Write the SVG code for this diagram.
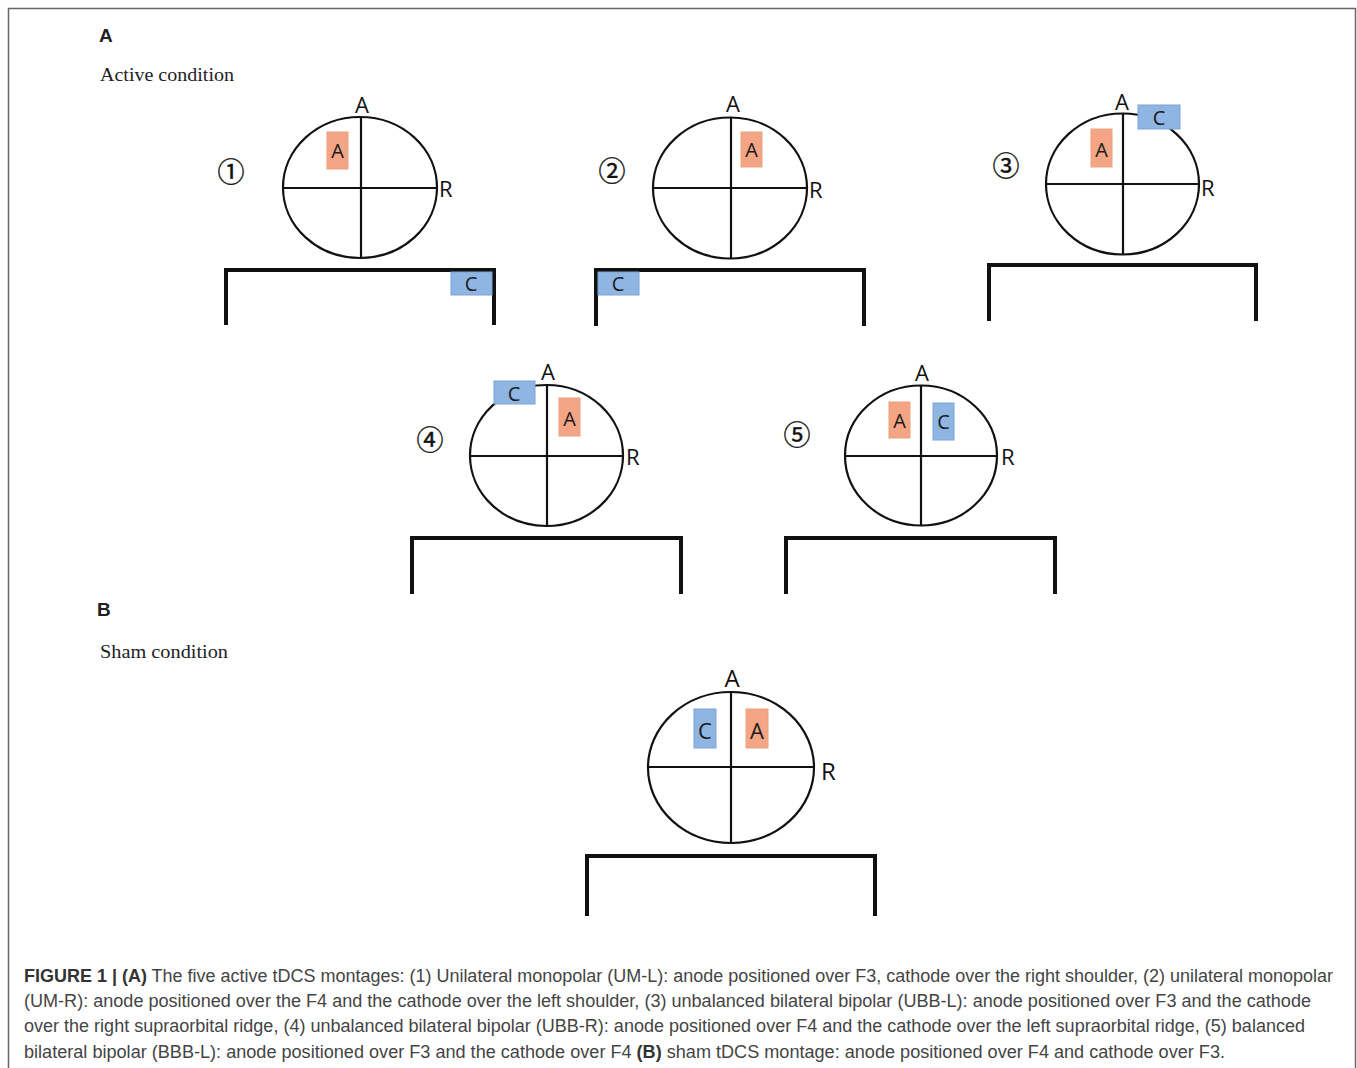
<svg xmlns="http://www.w3.org/2000/svg" width="1357" height="1068" viewBox="0 0 1357 1068">
<style>
.head{fill:none;stroke:#111;stroke-width:2.2}
.ax{stroke:#111;stroke-width:2.2}
.br{fill:none;stroke:#111;stroke-width:4;stroke-linejoin:miter}
.an{fill:#F4A584;stroke:#E9A27E;stroke-width:1}
.ca{fill:#8FB5E3;stroke:#7BA3D6;stroke-width:1}
.el{font-family:"Open Sans","Liberation Sans",sans-serif;font-size:20px;fill:#1a1a1a;text-anchor:middle}
.lb{font-family:"Open Sans","Liberation Sans",sans-serif;font-size:22px;fill:#111}
.num{font-family:"Noto Sans CJK SC","DejaVu Sans",sans-serif;font-size:27px;fill:#111;text-anchor:middle;stroke:#111;stroke-width:0.4}
.panel{font-family:"Liberation Sans",Arial,sans-serif;font-size:19px;font-weight:bold;fill:#222}
.cond{font-family:"Liberation Serif","Times New Roman",serif;font-size:19.5px;fill:#222}
.cap{font-family:"Liberation Sans",Arial,sans-serif;font-size:17.5px;fill:#444}
.cap tspan.b{font-weight:bold;fill:#333}
</style>
<rect x="8.5" y="8.5" width="1347" height="1080" fill="#fff" stroke="#666" stroke-width="1.5"/>
<text class="panel" x="99" y="42">A</text>
<text class="cond" x="100" y="81" textLength="134" lengthAdjust="spacingAndGlyphs">Active condition</text>
<text class="panel" x="97" y="616">B</text>
<text class="cond" x="100" y="658" textLength="128" lengthAdjust="spacingAndGlyphs">Sham condition</text>

<g id="montage1">
<text class="num" x="231" y="182">①</text>
<ellipse class="head" cx="360" cy="187.5" rx="77" ry="70.5"/>
<line class="ax" x1="283" y1="188" x2="437" y2="188"/>
<line class="ax" x1="361" y1="117" x2="361" y2="258"/>
<text class="lb" x="362" y="113" text-anchor="middle">A</text>
<text class="lb" x="439" y="197">R</text>
<rect class="an" x="327" y="132" width="21" height="37"/>
<text class="el" x="337.5" y="158">A</text>
<path class="br" d="M226,325 V270 H494 V325"/>
<rect class="ca" x="451" y="272" width="41" height="23"/>
<text class="el" x="471" y="291">C</text>
</g>

<g id="montage2">
<text class="num" x="612" y="181">②</text>
<ellipse class="head" cx="730" cy="188" rx="77" ry="70.5"/>
<line class="ax" x1="653" y1="188" x2="807" y2="188"/>
<line class="ax" x1="731" y1="117" x2="731" y2="258"/>
<text class="lb" x="733" y="112" text-anchor="middle">A</text>
<text class="lb" x="809" y="198">R</text>
<rect class="an" x="741" y="132" width="21" height="35"/>
<text class="el" x="751.5" y="157">A</text>
<path class="br" d="M596,326 V270 H864 V326"/>
<rect class="ca" x="598" y="272" width="41" height="23"/>
<text class="el" x="618" y="291">C</text>
</g>

<g id="montage3">
<text class="num" x="1006" y="176">③</text>
<ellipse class="head" cx="1122.5" cy="184" rx="76.5" ry="70.5"/>
<line class="ax" x1="1046" y1="184" x2="1199" y2="184"/>
<line class="ax" x1="1123" y1="113" x2="1123" y2="254"/>
<text class="lb" x="1122" y="110" text-anchor="middle">A</text>
<text class="lb" x="1201" y="196">R</text>
<rect class="an" x="1091" y="129" width="21" height="38"/>
<text class="el" x="1101.5" y="157">A</text>
<rect class="ca" x="1138" y="105" width="42" height="24"/>
<text class="el" x="1159" y="125">C</text>
<path class="br" d="M989,321 V265 H1256 V321"/>
</g>

<g id="montage4">
<text class="num" x="430" y="450">④</text>
<ellipse class="head" cx="546.5" cy="455.5" rx="76.5" ry="70.5"/>
<line class="ax" x1="470" y1="456" x2="623" y2="456"/>
<line class="ax" x1="547" y1="385" x2="547" y2="526"/>
<text class="lb" x="548" y="380" text-anchor="middle">A</text>
<text class="lb" x="626" y="465">R</text>
<rect class="ca" x="494" y="381" width="41" height="23"/>
<text class="el" x="514" y="401">C</text>
<rect class="an" x="559" y="398" width="21" height="38"/>
<text class="el" x="569.5" y="426">A</text>
<path class="br" d="M412,594 V538 H681 V594"/>
</g>

<g id="montage5">
<text class="num" x="797" y="445">⑤</text>
<ellipse class="head" cx="921" cy="455.5" rx="76" ry="70"/>
<line class="ax" x1="845" y1="456" x2="997" y2="456"/>
<line class="ax" x1="921" y1="386" x2="921" y2="525"/>
<text class="lb" x="922" y="381" text-anchor="middle">A</text>
<text class="lb" x="1001" y="465">R</text>
<rect class="an" x="889" y="402" width="21" height="36"/>
<text class="el" x="899.5" y="428">A</text>
<rect class="ca" x="933" y="403" width="21" height="37"/>
<text class="el" x="943.5" y="429">C</text>
<path class="br" d="M786,594 V538 H1055 V594"/>
</g>

<g id="sham">
<ellipse class="head" cx="731" cy="767.5" rx="83" ry="75.5"/>
<line class="ax" x1="648" y1="767" x2="814" y2="767"/>
<line class="ax" x1="731" y1="692" x2="731" y2="843"/>
<text class="lb" x="732" y="687" text-anchor="middle" style="font-size:24px">A</text>
<text class="lb" x="821" y="780" style="font-size:24px">R</text>
<rect class="ca" x="694" y="709" width="22" height="39"/>
<text class="el" x="705" y="739" style="font-size:22px">C</text>
<rect class="an" x="746" y="709" width="22" height="39"/>
<text class="el" x="757" y="739" style="font-size:22px">A</text>
<path class="br" d="M587,916 V856 H875 V916"/>
</g>

<g id="connectors"></g>

<text class="cap" x="24" y="982" textLength="1309" lengthAdjust="spacingAndGlyphs"><tspan class="b">FIGURE 1 | (A)</tspan> The five active tDCS montages: (1) Unilateral monopolar (UM-L): anode positioned over F3, cathode over the right shoulder, (2) unilateral monopolar</text>
<text class="cap" x="24" y="1007" textLength="1287" lengthAdjust="spacingAndGlyphs">(UM-R): anode positioned over the F4 and the cathode over the left shoulder, (3) unbalanced bilateral bipolar (UBB-L): anode positioned over F3 and the cathode</text>
<text class="cap" x="24" y="1032" textLength="1281" lengthAdjust="spacingAndGlyphs">over the right supraorbital ridge, (4) unbalanced bilateral bipolar (UBB-R): anode positioned over F4 and the cathode over the left supraorbital ridge, (5) balanced</text>
<text class="cap" x="24" y="1058" textLength="1201" lengthAdjust="spacingAndGlyphs">bilateral bipolar (BBB-L): anode positioned over F3 and the cathode over F4 <tspan class="b">(B)</tspan> sham tDCS montage: anode positioned over F4 and cathode over F3.</text>
</svg>
